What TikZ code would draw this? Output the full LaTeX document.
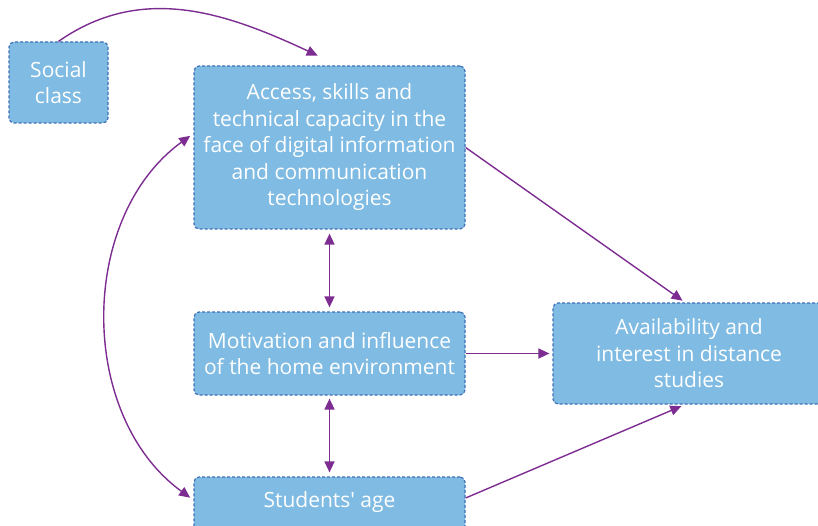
\documentclass[tikz,border=0pt]{standalone}
\usepackage{fontspec}
\setmainfont{Open Sans}
\usetikzlibrary{arrows.meta}
\definecolor{boxfill}{RGB}{127,187,226}
\definecolor{boxline}{RGB}{62,112,182}
\definecolor{arrowc}{RGB}{125,45,145}
\tikzset{
  box/.style={draw=boxline,fill=boxfill,line width=1.2pt,dash pattern=on 3pt off 2pt,
    rounded corners=5pt,text=white,align=center,inner sep=4pt,
    font=\fontsize{21}{26.5}\selectfont},
  arr/.style={draw=arrowc,line width=1.4pt,-{Triangle[length=11pt,width=10pt]}},
  dbl/.style={arr,{Triangle[length=11pt,width=10pt]}-{Triangle[length=11pt,width=10pt]}}
}
\begin{document}
\begin{tikzpicture}[x=1pt,y=1pt]
    \useasboundingbox (0,0) rectangle (818,525);
    \clip (0,0) rectangle (818,525);
    \node[box,minimum width=99pt,minimum height=81pt] (social) at (58.5,442.5) {Social\\class};
    \node[box,minimum width=271pt,minimum height=163pt] (access) at (329.5,377.5)
        {Access, skills and\\technical capacity in the\\face of digital information\\and communication\\technologies};
    \node[box,minimum width=271pt,minimum height=83pt] (motiv) at (329.5,171.5)
        {Motivation and influence\\of the home environment};
    \node[box,minimum width=271pt,text height=26pt,text depth=34pt] (age) at (329.5,14) {Students\textquotesingle\ age};
    \node[box,minimum width=272pt,minimum height=101pt] (avail) at (689,171.5)
        {Availability and\\interest in distance\\studies};
    \draw[arr,shorten >=2pt] (social.north) to[out=35,in=155] ([shift={(-10pt,9pt)}]access.north);
    \draw[arr,shorten >=3pt] (access.east) -- ([xshift=-4pt]avail.north);
    \draw[dbl,shorten <=4pt,shorten >=4pt] (access.south) -- (motiv.north);
    \draw[dbl,shorten <=3pt,shorten >=4pt] (motiv.south) -- (age.north);
    \draw[arr,shorten >=3pt] (motiv.east) -- (avail.west);
    \draw[arr,shorten >=4pt] ([yshift=13pt]age.east) -- ([xshift=-4pt]avail.south);
    \draw[dbl,shorten <=4pt,shorten >=4pt] ([yshift=14pt]access.west) to[bend right=54] ([yshift=11pt]age.west);
\end{tikzpicture}
\end{document}
